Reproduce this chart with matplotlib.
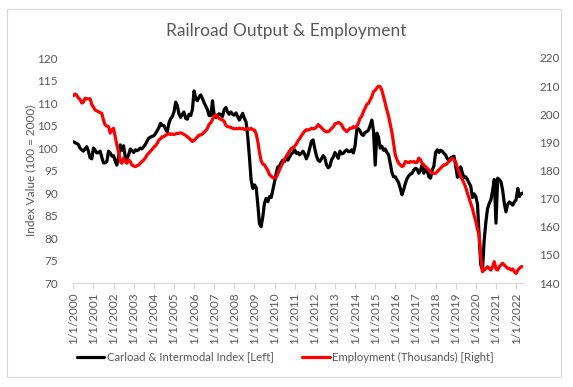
import matplotlib
matplotlib.use("Agg")
import matplotlib.pyplot as plt
from matplotlib.patches import Rectangle
import pandas as pd
import numpy as np

plt.rcParams['font.family'] = ['Lato', 'DejaVu Sans']

# ---- data (monthly, Jan 2000 .. May 2022) ----
carload_index = [
    # 2000
    101.4, 101.2, 101.0, 100.8, 100.0, 99.6, 99.3, 99.8, 100.3, 99.3, 97.8, 97.6,
    # 2001
    100.0, 99.5, 98.9, 99.0, 99.3, 98.0, 96.7, 96.7, 97.0, 99.3, 98.9, 98.2,
    # 2002
    98.3, 97.0, 96.2, 98.0, 100.7, 99.5, 100.5, 98.0, 97.5, 98.5, 99.8, 99.4,
    # 2003
    99.0, 99.6, 99.4, 99.6, 100.0, 99.8, 100.3, 100.8, 101.5, 102.2, 102.4, 102.6,
    # 2004
    102.7, 103.2, 103.8, 104.5, 105.5, 105.0, 105.0, 104.2, 103.6, 105.5, 106.5, 107.0,
    # 2005
    108.0, 110.2, 109.5, 107.6, 106.8, 107.5, 108.0, 106.6, 106.4, 107.5, 107.2, 108.5,
    # 2006
    112.7, 110.9, 110.5, 111.3, 111.8, 111.0, 110.1, 109.3, 108.5, 107.2, 107.2, 110.5,
    # 2007
    107.2, 106.8, 107.3, 107.6, 107.4, 107.0, 108.5, 109.0, 108.0, 107.5, 108.0, 107.5,
    # 2008
    107.3, 107.8, 107.0, 106.2, 107.0, 107.7, 106.6, 105.8, 102.5, 98.1, 92.9, 91.0,
    # 2009
    91.8, 91.2, 87.7, 83.2, 82.5, 84.7, 87.7, 88.8, 88.1, 89.2, 89.0, 90.7,
    # 2010
    92.5, 94.5, 95.8, 96.0, 96.8, 97.3, 97.0, 97.8, 97.3, 98.0, 98.7, 99.0,
    # 2011
    99.6, 98.8, 99.0, 98.5, 98.8, 99.3, 98.6, 97.6, 98.5, 100.0, 101.5, 101.8,
    # 2012
    99.8, 98.2, 97.3, 97.0, 97.6, 98.3, 97.8, 96.2, 95.6, 96.0, 97.4, 98.0,
    # 2013
    99.0, 98.4, 97.7, 99.3, 98.7, 98.8, 99.3, 99.6, 99.2, 99.2, 99.6, 98.9,
    # 2014
    100.5, 104.0, 104.3, 103.8, 103.0, 102.8, 103.5, 103.6, 104.0, 105.0, 106.2, 103.8,
    # 2015
    96.2, 103.3, 102.5, 100.0, 100.4, 99.5, 99.8, 99.0, 98.5, 96.6, 94.5, 93.6,
    # 2016
    93.6, 92.9, 92.3, 91.0, 89.6, 90.8, 92.1, 93.2, 93.8, 94.2, 94.4, 95.1,
    # 2017
    95.5, 95.3, 94.4, 95.0, 96.2, 94.4, 95.3, 95.0, 93.6, 93.3, 95.1, 96.0,
    # 2018
    99.0, 99.6, 99.0, 99.5, 99.3, 98.8, 98.5, 97.6, 97.3, 97.8, 98.0, 98.2,
    # 2019
    96.0, 93.5, 93.8, 95.8, 94.5, 93.4, 93.6, 93.0, 92.2, 91.5, 89.0, 89.8,
    # 2020
    89.2, 87.5, 80.5, 74.0, 73.0, 79.5, 83.5, 86.5, 87.7, 88.5, 90.5, 93.0,
    # 2021
    83.3, 93.3, 93.0, 92.5, 90.7, 87.7, 85.8, 87.5, 88.0, 87.7, 87.3, 88.0,
    # 2022
    88.5, 91.0, 89.2, 89.8, 90.0,
]

employment = [
    # 2000
    206.6, 207.2, 206.8, 205.8, 205.3, 204.0, 204.3, 205.7, 205.5, 205.5, 205.5, 203.5,
    # 2001
    202.5, 201.5, 201.2, 200.9, 200.6, 200.3, 198.0, 196.2, 195.8, 195.6, 193.3, 194.5,
    # 2002
    195.0, 192.0, 189.1, 186.7, 183.2, 182.6, 184.4, 183.2, 182.6, 183.8, 183.2, 181.9,
    # 2003
    181.6, 181.4, 181.7, 182.0, 182.6, 183.2, 183.7, 184.5, 185.5, 186.2, 186.8, 187.5,
    # 2004
    188.3, 188.8, 189.6, 190.8, 191.3, 192.0, 192.0, 192.6, 192.7, 193.2, 192.8, 193.0,
    # 2005
    192.8, 193.0, 193.2, 193.2, 193.4, 193.2, 192.8, 192.5, 192.0, 191.5, 190.9, 190.3,
    # 2006
    190.7, 191.3, 191.9, 192.6, 192.6, 193.0, 193.6, 194.2, 195.0, 196.4, 197.0, 198.2,
    # 2007
    199.3, 199.7, 199.3, 198.5, 198.2, 198.0, 197.5, 196.0, 195.6, 195.5, 195.3, 195.0,
    # 2008
    194.8, 195.0, 194.8, 195.0, 194.8, 195.0, 194.6, 194.6, 195.0, 194.6, 195.0, 194.5,
    # 2009
    194.4, 193.0, 190.5, 186.5, 183.5, 182.3, 182.0, 181.0, 180.0, 178.5, 178.0, 177.4,
    # 2010
    177.4, 177.6, 178.8, 180.3, 181.5, 182.8, 184.0, 185.0, 186.0, 187.0, 187.8, 188.2,
    # 2011
    188.6, 189.5, 190.5, 191.3, 192.3, 193.2, 194.0, 194.5, 194.4, 194.6, 195.0, 194.8,
    # 2012
    195.0, 195.4, 196.3, 195.8, 195.2, 194.6, 194.0, 193.8, 193.8, 194.3, 195.0, 195.5,
    # 2013
    196.6, 196.8, 197.1, 196.8, 196.3, 195.0, 194.4, 193.8, 194.4, 195.0, 195.0, 195.6,
    # 2014
    195.3, 195.8, 196.8, 198.6, 199.3, 200.9, 202.1, 203.5, 203.9, 205.1, 206.3, 208.0,
    # 2015
    208.5, 209.4, 210.0, 209.8, 208.6, 206.3, 203.9, 201.5, 199.3, 196.5, 193.5, 189.5,
    # 2016
    185.5, 183.8, 182.6, 182.0, 181.4, 181.8, 183.2, 183.0, 182.8, 183.2, 183.0, 183.2,
    # 2017
    182.8, 182.9, 184.4, 183.8, 182.6, 182.0, 181.4, 180.8, 180.2, 179.6, 179.0, 179.0,
    # 2018
    179.0, 179.6, 180.2, 180.8, 181.4, 182.0, 182.0, 182.6, 183.2, 183.8, 184.3, 183.8,
    # 2019
    183.0, 181.0, 179.5, 178.0, 176.8, 175.5, 174.0, 172.0, 170.2, 168.3, 166.5, 164.0,
    # 2020
    162.0, 159.0, 157.0, 149.0, 144.0, 144.6, 145.2, 145.8, 145.2, 144.6, 145.8, 147.6,
    # 2021
    145.0, 144.6, 145.8, 146.4, 147.0, 146.4, 145.8, 145.2, 145.2, 144.6, 145.0, 144.0,
    # 2022
    143.4, 144.6, 145.2, 145.8, 145.8,
]

dates = pd.date_range("2000-01-01", periods=len(carload_index), freq="MS")
tick_years = list(range(2000, 2023))
tick_labels = [f"1/1/{y}" for y in tick_years]

title = "Railroad Output & Employment"
left_label = "Index Value (100 = 2000)"
series_names = ["Carload & Intermodal Index [Left]", "Employment (Thousands) [Right]"]

# ---- figure ----
W, H = 573, 387
fig = plt.figure(figsize=(W / 100, H / 100), dpi=100)
txt = "#595959"
grid_c = "#d9d9d9"

ax_l, ax_r, ax_t, ax_b = 73.3, 522.7, 58, 283
ax = fig.add_axes([ax_l / W, 1 - ax_b / H, (ax_r - ax_l) / W, (ax_b - ax_t) / H])
ax2 = ax.twinx()

l1, = ax.plot(dates, carload_index, color="black", lw=2.3, solid_joinstyle="round",
              solid_capstyle="round", zorder=3)
l2, = ax2.plot(dates, employment, color="#ff0000", lw=2.3, solid_joinstyle="round",
               solid_capstyle="round", zorder=3)

ax.set_ylim(70, 120)
ax.set_yticks(np.arange(70, 121, 5))
ax2.set_ylim(140, 220)
ax2.set_yticks(np.arange(140, 221, 10))

ax.set_xlim(dates[0], dates[-1])
ax.set_xticks([pd.Timestamp(f"{y}-01-01") for y in tick_years])
ax.set_xticklabels(tick_labels, rotation=90, fontsize=8.5, color=txt)

for a in (ax, ax2):
    for s in ("top", "left", "right", "bottom"):
        a.spines[s].set_visible(False)
ax.spines["bottom"].set_visible(True)
ax.spines["bottom"].set_color(grid_c)
ax.spines["bottom"].set_linewidth(0.8)

ax.tick_params(axis="x", length=4, width=0.8, color=grid_c, pad=3)
ax.tick_params(axis="y", length=0, labelsize=8.5, labelcolor=txt, pad=11)
ax2.tick_params(axis="y", length=0, labelsize=8.5, labelcolor=txt, pad=12)

ax.set_ylabel(left_label, fontsize=8.5, color=txt)
ax.yaxis.set_label_coords((36 - ax_l) / (ax_r - ax_l), 0.5)

fig.text(0.5, 1 - 31 / H, title, ha="center", va="center", fontsize=12.5, color=txt)

fig.legend([l1, l2], series_names, loc="center", bbox_to_anchor=(0.498, 1 - 357 / H),
           ncol=2, frameon=False, fontsize=8.2, labelcolor=txt,
           handlelength=2.4, handletextpad=0.25, columnspacing=2.5)

fig.patches.append(Rectangle((7 / W, 1 - 377 / H), (561 - 7) / W, (377 - 9) / H,
                             transform=fig.transFigure, fill=False,
                             edgecolor=grid_c, lw=0.8))

fig.savefig("out.png", dpi=100)
